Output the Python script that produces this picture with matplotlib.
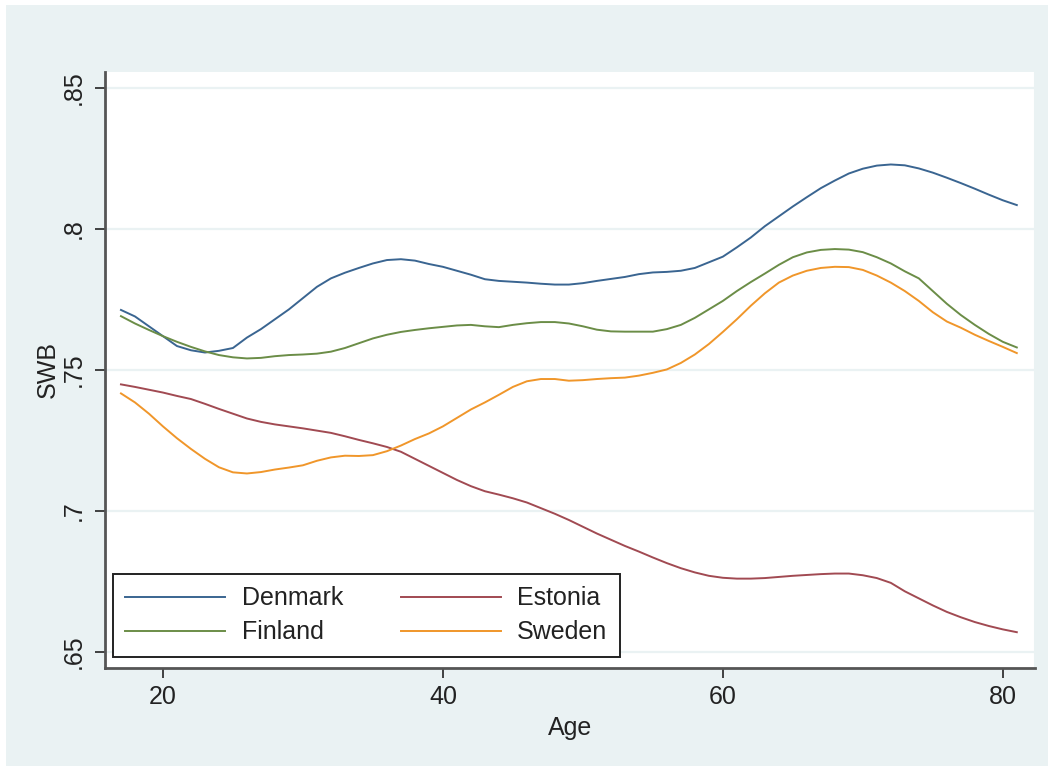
import matplotlib
matplotlib.use("Agg")
import matplotlib.pyplot as plt
from matplotlib.patches import Rectangle

plt.rcParams["font.family"] = ["Liberation Sans", "DejaVu Sans"]

ages = list(range(17, 82))

denmark = [0.7713, 0.7690, 0.7655, 0.7620, 0.7585, 0.7570, 0.7562, 0.7568, 0.7578, 0.7615,
           0.7645, 0.7680, 0.7715, 0.7755, 0.7795, 0.7825, 0.7845, 0.7862, 0.7878, 0.7890,
           0.7893, 0.7888, 0.7876, 0.7866, 0.7852, 0.7838, 0.7822, 0.7816, 0.7813, 0.7810,
           0.7806, 0.7803, 0.7803, 0.7808, 0.7816, 0.7823, 0.7830, 0.7840, 0.7846, 0.7848,
           0.7852, 0.7862, 0.7882, 0.7902, 0.7935, 0.7970, 0.8010, 0.8045, 0.8080, 0.8113,
           0.8145, 0.8172, 0.8197, 0.8214, 0.8225, 0.8229, 0.8226, 0.8215, 0.8200, 0.8182,
           0.8163, 0.8143, 0.8122, 0.8102, 0.8085]

estonia = [0.7449, 0.7440, 0.7430, 0.7420, 0.7408, 0.7397, 0.7380, 0.7362, 0.7345, 0.7328,
           0.7316, 0.7307, 0.7300, 0.7293, 0.7285, 0.7277, 0.7265, 0.7252, 0.7240, 0.7227,
           0.7210, 0.7185, 0.7160, 0.7135, 0.7110, 0.7088, 0.7070, 0.7058, 0.7045, 0.7030,
           0.7010, 0.6990, 0.6968, 0.6944, 0.6920, 0.6898, 0.6876, 0.6856, 0.6835, 0.6815,
           0.6797, 0.6782, 0.6770, 0.6763, 0.6760, 0.6760, 0.6762, 0.6766, 0.6770, 0.6773,
           0.6776, 0.6778, 0.6778, 0.6772, 0.6762, 0.6745, 0.6715, 0.6690, 0.6665, 0.6642,
           0.6623, 0.6606, 0.6592, 0.6580, 0.6570]

finland = [0.7691, 0.7665, 0.7642, 0.7620, 0.7600, 0.7582, 0.7566, 0.7553, 0.7545, 0.7541,
           0.7543, 0.7549, 0.7553, 0.7555, 0.7558, 0.7565, 0.7578, 0.7595, 0.7612, 0.7625,
           0.7635, 0.7642, 0.7648, 0.7653, 0.7658, 0.7660, 0.7655, 0.7652, 0.7660, 0.7666,
           0.7670, 0.7670, 0.7665, 0.7655, 0.7643, 0.7637, 0.7636, 0.7636, 0.7636, 0.7645,
           0.7660, 0.7685, 0.7715, 0.7745, 0.7780, 0.7812, 0.7842, 0.7873, 0.7900, 0.7917,
           0.7926, 0.7929, 0.7927, 0.7918, 0.7900, 0.7878, 0.7850, 0.7825, 0.7780, 0.7735,
           0.7695, 0.7660, 0.7628, 0.7600, 0.7580]

sweden = [0.7417, 0.7385, 0.7345, 0.7300, 0.7258, 0.7220, 0.7185, 0.7155, 0.7137, 0.7133,
          0.7138, 0.7147, 0.7154, 0.7162, 0.7178, 0.7190, 0.7196, 0.7195, 0.7198, 0.7212,
          0.7232, 0.7255, 0.7275, 0.7300, 0.7330, 0.7360, 0.7385, 0.7412, 0.7440, 0.7460,
          0.7468, 0.7468, 0.7462, 0.7464, 0.7468, 0.7471, 0.7473, 0.7480, 0.7490, 0.7502,
          0.7525, 0.7555, 0.7592, 0.7635, 0.7680, 0.7728, 0.7772, 0.7810, 0.7835, 0.7852,
          0.7862, 0.7866, 0.7865, 0.7855, 0.7835, 0.7810, 0.7780, 0.7745, 0.7705, 0.7672,
          0.7650, 0.7625, 0.7603, 0.7582, 0.7560]

x_ticks = [20, 40, 60, 80]
y_ticks = [0.65, 0.70, 0.75, 0.80, 0.85]
y_tick_labels = [".65", ".7", ".75", ".8", ".85"]

BG = "#eaf2f3"
W, H = 1048, 766
FS = 18
fig = plt.figure(figsize=(W / 100, H / 100), dpi=100, facecolor="white")

# outer light panel, kept behind the axes
fig.patches.append(Rectangle((6 / W, 0), 1 - 6 / W, 1 - 5 / H,
                             transform=fig.transFigure, facecolor=BG,
                             edgecolor="none", zorder=-10))

left, right, top, bottom = 105, 1035, 72, 668
ax = fig.add_axes([left / W, 1 - bottom / H, (right - left) / W, (bottom - top) / H])
ax.set_zorder(5)
ax.set_facecolor("white")

series = [
    ("Denmark", denmark, "#3a6591"),
    ("Estonia", estonia, "#a14a52"),
    ("Finland", finland, "#6b8d47"),
    ("Sweden", sweden, "#f0962a"),
]
handles = {}
for name, vals, col in series:
    (ln,) = ax.plot(ages, vals, color=col, lw=1.4, zorder=3)
    handles[name] = ln

ax.set_xlim(15.86, 82.3)
ax.set_ylim(0.6443, 0.8557)
ax.set_xticks(x_ticks)
ax.set_yticks(y_ticks)
ax.set_yticklabels(y_tick_labels, rotation=90, va="center")
ax.grid(axis="y", color=BG, lw=1.6, zorder=1)
ax.tick_params(axis="both", colors="#333333", labelcolor="#222222",
               labelsize=FS, length=7, width=1.3, direction="out")
ax.tick_params(axis="x", pad=5)
ax.tick_params(axis="y", pad=7)

ax.spines["top"].set_visible(False)
ax.spines["right"].set_color(BG)
ax.spines["right"].set_linewidth(1.5)
for s in ("left", "bottom"):
    ax.spines[s].set_color("#555555")
    ax.spines[s].set_linewidth(2.0)

ax.set_xlabel("Age", fontsize=FS, color="#222222", labelpad=5)
ax.set_ylabel("SWB", fontsize=FS, color="#222222", labelpad=1)

leg = ax.legend([handles["Denmark"], handles["Finland"], handles["Estonia"], handles["Sweden"]],
                ["Denmark", "Finland", "Estonia", "Sweden"],
                ncol=2, loc="lower left", bbox_to_anchor=(0.0086, 0.0185),
                frameon=True, fancybox=False, fontsize=FS, handlelength=4.0,
                handletextpad=0.65, columnspacing=2.3, borderpad=0.5,
                labelspacing=0.4, borderaxespad=0)
leg.get_frame().set_edgecolor("#222222")
leg.get_frame().set_linewidth(1.4)
leg.get_frame().set_facecolor("white")
leg.get_frame().set_alpha(1)
for t in leg.get_texts():
    t.set_color("#222222")

fig.savefig("out.png", dpi=100, facecolor=fig.get_facecolor())
